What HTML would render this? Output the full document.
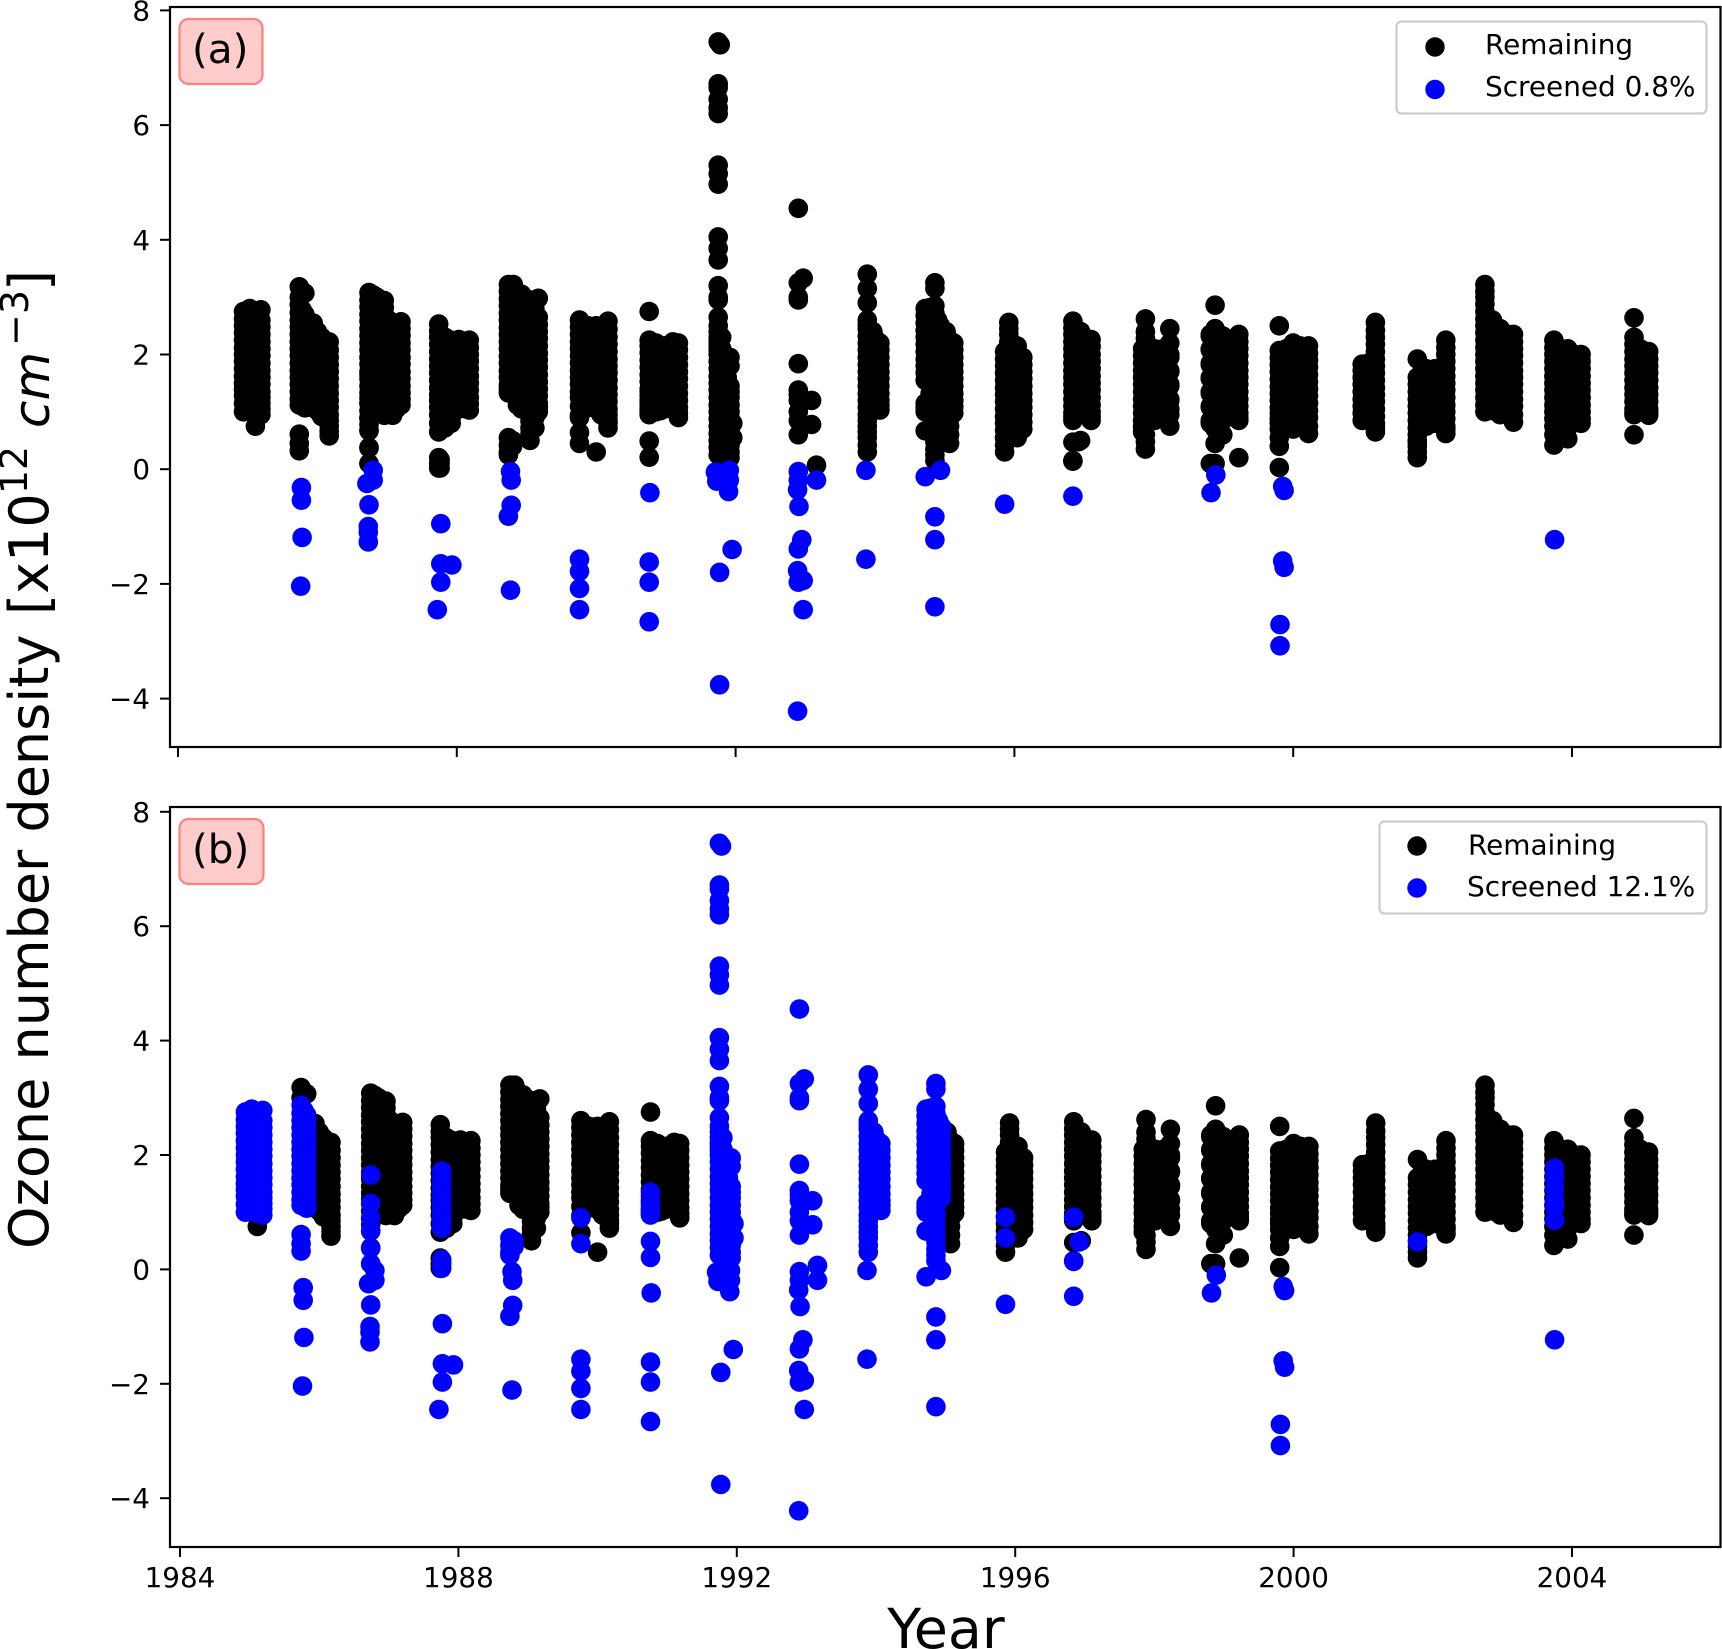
<!DOCTYPE html>
<html lang="en">
<head>
<meta charset="utf-8">
<title>Ozone number density screening</title>
<style>
  html, body { margin: 0; padding: 0; background: #fff; }
  svg { display: block; }
  text { font-family: "DejaVu Sans", "Liberation Sans", sans-serif; fill: #000; }
</style>
</head>
<body>
<svg id="chart" xmlns="http://www.w3.org/2000/svg" width="1722" height="1649" viewBox="0 0 1722 1649">
  <rect x="0" y="0" width="1722" height="1649" fill="#fff"/>
  <g id="panel-a"></g>
  <g id="panel-b"></g>

  <rect x="170" y="7" width="1550.5" height="740" fill="none" stroke="#000" stroke-width="2.2"/>
  <rect x="170" y="807" width="1550.5" height="740" fill="none" stroke="#000" stroke-width="2.2"/>

  <g>
    <rect x="179.5" y="19" width="83" height="65" rx="9" fill="#ffcccc" stroke="#ff8080" stroke-width="2.2"/>
    <text x="192" y="63" font-size="40.5">(a)</text>
  </g>
  <g>
    <rect x="179.5" y="819" width="84" height="65" rx="9" fill="#ffcccc" stroke="#ff8080" stroke-width="2.2"/>
    <text x="192" y="863" font-size="40.5">(b)</text>
  </g>

  <g>
    <rect x="1396.5" y="21.5" width="310" height="92" rx="5" fill="#fff" fill-opacity="0.8" stroke="#ccc" stroke-width="2.2"/>
    <circle cx="1435" cy="47" r="9.7" fill="#000"/>
    <text x="1485" y="54" font-size="27.9">Remaining</text>
    <circle cx="1435" cy="89.5" r="9.7" fill="#0000ff"/>
    <text x="1485" y="96" font-size="27.9">Screened 0.8%</text>
  </g>
  <g>
    <rect x="1379.5" y="821.5" width="327" height="92" rx="5" fill="#fff" fill-opacity="0.8" stroke="#ccc" stroke-width="2.2"/>
    <circle cx="1417" cy="846" r="9.7" fill="#000"/>
    <text x="1468" y="854.5" font-size="27.9">Remaining</text>
    <circle cx="1417" cy="888" r="9.7" fill="#0000ff"/>
    <text x="1467" y="896" font-size="27.9">Screened 12.1%</text>
  </g>

  <text transform="translate(48,1249) rotate(-90)" font-size="54"><tspan x="0" y="0">Ozone number density</tspan><tspan x="634" y="0">[x10</tspan><tspan x="755" y="-21" font-size="37.8">12</tspan><tspan x="821" y="1" font-size="50" font-style="italic">cm</tspan><tspan x="903" y="-20" font-size="38">−3</tspan><tspan x="958" y="0">]</tspan></text>
  <text x="946" y="1648" font-size="55.5" text-anchor="middle">Year</text>
</svg>

<script>
const NS = 'http://www.w3.org/2000/svg';

const yearTicks = [1984, 1988, 1992, 1996, 2000, 2004];
const valueTicks = [8, 6, 4, 2, 0, -2, -4];

// Observations black in both panels: one year per column, one value list per column.
const commonYears = [
  1985.11,
  1985.74, 1985.82, 1985.94, 1986.06, 1986.17,
  1986.74, 1986.85, 1986.96, 1987.08, 1987.2,
  1987.74, 1987.83, 1987.92, 1988.03, 1988.1, 1988.18,
  1988.74, 1988.81, 1988.93, 1989.05, 1989.12, 1989.17,
  1989.76, 1989.88, 1990.0, 1990.07, 1990.17,
  1990.76, 1990.86, 1990.98, 1991.1, 1991.18,
  1995.02, 1995.07, 1995.13,
  1995.86, 1995.92, 1996.04, 1996.12,
  1996.84, 1996.95, 1997.1,
  1997.84, 1997.88, 1998.01, 1998.13, 1998.23,
  1998.81, 1998.88, 1998.99, 1999.11, 1999.22,
  1999.8, 1999.9, 2000.0, 2000.1, 2000.22,
  2000.99, 2001.08, 2001.18,
  2001.78, 2001.91, 2002.03, 2002.11, 2002.19,
  2002.75, 2002.86, 2002.97, 2003.08, 2003.16,
  2003.74, 2003.84, 2003.94, 2004.04, 2004.13,
  2004.89, 2004.98, 2005.1
];
const commonValues = [
  [0.75],
  [3.18, 3.0], [3.07],
  [2.55, 2.25, 2.0, 1.75, 1.5, 1.25, 1.07],
  [2.3, 2.05, 1.8, 1.55, 1.3, 1.07, 0.92],
  [2.22, 1.95, 1.7, 1.45, 1.2, 0.95, 0.75, 0.58],
  [3.08, 2.83, 2.58, 2.33, 2.08, 1.83, 1.58, 1.33, 1.15, 0.89, 0.67, 0.38, 0.1],
  [3.0, 2.75, 2.5, 2.25, 2.0, 1.75, 1.5, 1.25, 1.05],
  [2.94, 2.7, 2.45, 2.2, 1.95, 1.7, 1.45, 1.2, 0.94],
  [2.55, 2.3, 2.05, 1.8, 1.55, 1.3, 1.05, 0.94],
  [2.57, 2.33, 2.08, 1.83, 1.58, 1.33, 1.12],
  [2.53, 2.3, 2.05, 1.8, 1.55, 1.3, 1.2, 0.95, 0.65, 0.2, 0.1, 0.02],
  [2.3, 2.05, 1.8, 1.55, 1.3, 1.05, 0.85],
  [2.25, 2.0, 1.75, 1.5, 1.25, 1.0, 0.8],
  [2.26, 2.01, 1.76, 1.51, 1.26, 1.05],
  [2.1, 1.85, 1.6, 1.35, 1.1],
  [2.25, 2.0, 1.75, 1.5, 1.25, 1.03],
  [3.22, 2.97, 2.72, 2.47, 2.22, 1.97, 1.72, 1.47, 1.33],
  [3.22, 2.95, 2.7, 2.45, 2.2, 1.95, 1.7, 1.45, 1.35],
  [3.05, 2.8, 2.55, 2.3, 2.05, 1.8, 1.55, 1.3, 1.05],
  [2.95, 2.7, 2.45, 2.2, 1.95, 1.7, 1.45, 1.2, 0.95, 0.72, 0.5],
  [2.8, 2.55, 2.3, 2.05, 1.8, 1.55, 1.3, 1.05, 0.72],
  [2.98, 2.65, 2.4, 2.15, 1.9, 1.65, 1.4, 1.15, 1.0],
  [2.6, 2.35, 2.1, 1.85, 1.6, 1.35, 1.25, 0.94, 0.64],
  [2.5, 2.25, 2.0, 1.75, 1.5, 1.25, 1.1],
  [2.5, 2.25, 2.0, 1.75, 1.5, 1.25, 1.05, 0.3],
  [2.35, 2.1, 1.85, 1.6, 1.35, 1.1, 0.95],
  [2.58, 2.3, 2.05, 1.8, 1.55, 1.3, 1.05, 0.85, 0.72],
  [2.75, 2.25, 2.03, 1.78, 1.53, 1.28, 1.05, 0.97],
  [2.2, 1.95, 1.7, 1.45, 1.2, 1.0],
  [2.15, 1.9, 1.65, 1.4, 1.15, 1.05],
  [2.22, 2.0, 1.75, 1.5, 1.25, 1.05],
  [2.2, 1.95, 1.7, 1.45, 1.2, 0.9],
  [2.4, 2.15, 1.9, 1.65, 1.4, 1.15, 0.9, 0.6],
  [2.25, 2.0, 1.75, 1.5, 1.25, 1.0, 0.75, 0.45],
  [2.2, 1.95, 1.7, 1.45, 1.2, 0.98],
  [2.05, 1.8, 1.55, 1.3, 1.05, 0.8, 0.55, 0.3],
  [2.56, 2.35, 2.1, 1.85, 1.6, 1.35, 1.1],
  [2.15, 1.9, 1.65, 1.4, 1.15, 0.9, 0.7, 0.55],
  [1.95, 1.7, 1.45, 1.2, 0.95, 0.7],
  [2.58, 2.35, 2.1, 1.85, 1.6, 1.35, 1.1, 0.85, 0.47, 0.15],
  [2.4, 2.15, 1.9, 1.65, 1.4, 1.15, 1.0, 0.5],
  [2.26, 2.0, 1.75, 1.5, 1.25, 1.0, 0.85],
  [2.1, 1.85, 1.6, 1.35, 1.1, 0.85, 0.65],
  [2.62, 2.4, 2.15, 1.9, 1.65, 1.4, 1.15, 0.9, 0.6, 0.35],
  [2.1, 1.85, 1.6, 1.35, 1.1, 0.85],
  [2.1, 1.85, 1.6, 1.35, 1.1, 1.0],
  [2.45, 2.2, 1.95, 1.7, 1.45, 1.2, 0.95, 0.75],
  [2.35, 2.1, 1.85, 1.6, 1.35, 1.1, 0.8, 0.1],
  [2.86, 2.45, 2.2, 1.95, 1.7, 1.45, 1.2, 0.95, 0.7, 0.45, 0.1],
  [2.2, 1.95, 1.7, 1.45, 1.2, 1.1],
  [2.15, 1.9, 1.65, 1.4, 1.15],
  [2.35, 2.1, 1.85, 1.6, 1.35, 1.1, 0.85, 0.2],
  [2.5, 2.07, 1.82, 1.57, 1.32, 1.07, 0.88, 0.7, 0.4, 0.03],
  [2.1, 1.85, 1.6, 1.35, 1.1, 0.9],
  [2.2, 1.95, 1.7, 1.45, 1.2, 0.95, 0.7],
  [2.15, 1.9, 1.65, 1.4, 1.15, 0.9],
  [2.15, 1.9, 1.65, 1.4, 1.15, 0.9, 0.62],
  [1.83, 1.6, 1.35, 1.1, 0.85],
  [1.85, 1.6, 1.35, 1.1, 0.9],
  [2.56, 2.3, 2.05, 1.8, 1.55, 1.3, 1.05, 0.8, 0.65],
  [1.92, 1.6, 1.35, 1.1, 0.85, 0.6, 0.4, 0.2],
  [1.75, 1.5, 1.25, 1.0, 0.75],
  [1.75, 1.5, 1.25, 1.0, 0.8],
  [1.6, 1.35, 1.1, 0.85],
  [2.25, 2.0, 1.75, 1.5, 1.25, 1.0, 0.75, 0.62],
  [3.22, 3.0, 2.75, 2.5, 2.25, 2.0, 1.75, 1.5, 1.25, 1.0],
  [2.6, 2.35, 2.1, 1.85, 1.6, 1.35, 1.1],
  [2.45, 2.2, 1.95, 1.7, 1.45, 1.2, 0.95],
  [2.35, 2.1, 1.85, 1.6, 1.35, 1.1, 0.95],
  [2.35, 2.1, 1.85, 1.6, 1.35, 1.1, 0.82],
  [2.25, 2.0, 1.75, 1.5, 1.25, 1.0, 0.75, 0.42],
  [2.1, 1.85, 1.6, 1.35, 1.1, 0.9],
  [2.1, 1.85, 1.6, 1.35, 1.1, 0.85, 0.53],
  [2.0, 1.75, 1.5, 1.25, 1.0, 0.85],
  [2.0, 1.75, 1.5, 1.25, 1.0, 0.8],
  [2.64, 2.3, 2.05, 1.8, 1.55, 1.3, 1.05, 0.95, 0.6],
  [2.1, 1.85, 1.6, 1.35, 1.1, 1.0],
  [2.05, 1.8, 1.55, 1.3, 1.05, 0.94]
];

// Further black observations between the values above, in the dense parts of each campaign.
const commonDenseYears = [
  1985.94, 1986.0, 1986.06, 1986.17,
  1986.74, 1986.8, 1986.85, 1986.96, 1987.02, 1987.08, 1987.14, 1987.2,
  1987.74, 1987.83, 1987.92, 1988.03, 1988.1, 1988.18,
  1988.74, 1988.81, 1988.87, 1988.93, 1989.05, 1989.12, 1989.17,
  1989.76, 1989.82, 1989.88, 1990.0, 1990.07, 1990.17,
  1990.76, 1990.86, 1990.92, 1990.98, 1991.1, 1991.18,
  1995.02, 1995.07, 1995.13,
  1995.86, 1995.92, 1996.04, 1996.12,
  1996.84, 1996.9, 1996.95, 1997.03, 1997.1,
  1997.84, 1997.88, 1997.95, 1998.01, 1998.07, 1998.13, 1998.23,
  1998.81, 1998.88, 1998.99, 1999.05, 1999.11, 1999.17, 1999.22,
  1999.8, 1999.9, 1999.95, 2000.0, 2000.05, 2000.1, 2000.16, 2000.22,
  2000.99, 2001.08, 2001.13, 2001.18,
  2001.78, 2001.85, 2001.91, 2002.03, 2002.11, 2002.19,
  2002.75, 2002.86, 2002.92, 2002.97, 2003.03, 2003.08, 2003.16,
  2003.74, 2003.79, 2003.84, 2003.94, 2004.04, 2004.09, 2004.13,
  2004.89, 2004.94, 2004.98, 2005.04, 2005.1
];
const commonDenseValues = [
  [2.38, 2.12, 1.88, 1.62, 1.38, 1.16],
  [2.4, 2.16, 1.9, 1.64, 1.4, 1.14, 1.02],
  [2.18, 1.92, 1.68, 1.42, 1.18, 1.0],
  [2.08, 1.82, 1.58, 1.32, 1.08, 0.85, 0.66],
  [2.95, 2.7, 2.45, 2.2, 1.95, 1.7, 1.45, 1.24, 1.02, 0.78],
  [3.04, 2.62, 2.36, 2.12, 1.88, 1.62, 1.36, 1.14],
  [2.88, 2.63, 2.38, 2.13, 1.88, 1.63, 1.38, 1.15],
  [2.82, 2.58, 2.32, 2.08, 1.82, 1.58, 1.32, 1.08],
  [2.6, 2.34, 2.1, 1.84, 1.6, 1.34, 1.1, 0.96],
  [2.42, 2.18, 1.92, 1.68, 1.42, 1.18, 1.0],
  [2.5, 2.24, 2.0, 1.74, 1.5, 1.24, 1.06],
  [2.45, 2.2, 1.95, 1.7, 1.45, 1.22],
  [2.41, 2.18, 1.92, 1.68, 1.42, 1.08, 0.8],
  [2.18, 1.92, 1.68, 1.42, 1.18, 0.95, 0.72],
  [2.12, 1.88, 1.62, 1.38, 1.12, 0.9],
  [2.14, 1.88, 1.64, 1.38, 1.16],
  [1.98, 1.72, 1.48, 1.22, 1.06],
  [2.12, 1.88, 1.62, 1.38, 1.14],
  [3.1, 2.85, 2.6, 2.35, 2.1, 1.85, 1.6, 1.4],
  [3.08, 2.82, 2.58, 2.32, 2.08, 1.82, 1.58, 1.4],
  [3.0, 2.76, 2.5, 2.26, 2.0, 1.76, 1.5, 1.26, 1.12],
  [2.92, 2.68, 2.42, 2.18, 1.92, 1.68, 1.42, 1.18],
  [2.82, 2.58, 2.32, 2.08, 1.82, 1.58, 1.32, 1.08, 0.84, 0.62],
  [2.68, 2.42, 2.18, 1.92, 1.68, 1.42, 1.18, 0.9],
  [2.52, 2.28, 2.02, 1.78, 1.52, 1.28, 1.08],
  [2.48, 2.22, 1.98, 1.72, 1.48, 1.1],
  [2.44, 2.18, 1.92, 1.68, 1.42, 1.18, 1.04],
  [2.38, 2.12, 1.88, 1.62, 1.38, 1.18],
  [2.38, 2.12, 1.88, 1.62, 1.38, 1.15],
  [2.22, 1.98, 1.72, 1.48, 1.22, 1.02],
  [2.44, 2.18, 1.92, 1.68, 1.42, 1.18, 0.95, 0.8],
  [2.15, 1.9, 1.65, 1.4, 1.17, 1.0],
  [2.08, 1.82, 1.58, 1.32, 1.1],
  [2.12, 1.88, 1.62, 1.38, 1.14, 1.02],
  [2.02, 1.78, 1.52, 1.28, 1.1],
  [2.12, 1.88, 1.62, 1.38, 1.15],
  [2.08, 1.82, 1.58, 1.32, 1.08, 0.98],
  [2.28, 2.02, 1.78, 1.52, 1.28, 1.02, 0.75],
  [2.12, 1.88, 1.62, 1.38, 1.12, 0.88, 0.6],
  [2.08, 1.82, 1.58, 1.32, 1.09],
  [1.92, 1.68, 1.42, 1.18, 0.92, 0.68, 0.42],
  [2.45, 2.22, 1.98, 1.72, 1.48, 1.22, 1.0],
  [2.02, 1.78, 1.52, 1.28, 1.02, 0.8, 0.62],
  [1.82, 1.58, 1.32, 1.08, 0.82],
  [2.46, 2.22, 1.98, 1.72, 1.48, 1.22, 0.98],
  [2.3, 2.05, 1.8, 1.55, 1.3, 1.05],
  [2.28, 2.02, 1.78, 1.52, 1.28, 1.08],
  [2.18, 1.92, 1.68, 1.42, 1.18, 1.0],
  [2.14, 1.88, 1.62, 1.38, 1.12, 0.92],
  [1.98, 1.72, 1.48, 1.22, 0.98, 0.75],
  [2.28, 2.02, 1.78, 1.52, 1.28, 1.02, 0.76, 0.48],
  [2.0, 1.72, 1.48, 1.22, 1.0],
  [1.98, 1.72, 1.48, 1.22, 0.95],
  [2.0, 1.75, 1.5, 1.25, 1.0],
  [1.98, 1.72, 1.48, 1.22, 1.05],
  [2.0, 1.72, 1.48, 1.22, 1.05],
  [2.32, 2.08, 1.82, 1.58, 1.32, 1.08, 0.85],
  [2.22, 1.98, 1.72, 1.48, 1.22, 0.95],
  [2.32, 2.08, 1.82, 1.58, 1.32, 1.08, 0.85, 0.6],
  [2.08, 1.82, 1.58, 1.32, 1.18],
  [2.05, 1.8, 1.55, 1.3, 1.12],
  [2.02, 1.78, 1.52, 1.28, 1.02],
  [2.22, 1.98, 1.72, 1.48, 1.22, 0.98, 0.9],
  [1.94, 1.7, 1.44, 1.2, 0.98, 0.8, 0.55],
  [1.98, 1.72, 1.48, 1.22, 1.0],
  [2.08, 1.82, 1.58, 1.32, 1.06, 0.82],
  [2.1, 1.84, 1.58, 1.33, 1.08, 0.84],
  [2.08, 1.82, 1.58, 1.32, 1.08, 0.82],
  [2.02, 1.78, 1.52, 1.28, 1.02, 0.95],
  [2.08, 1.84, 1.58, 1.34, 1.08, 0.88],
  [2.02, 1.78, 1.52, 1.28, 1.02, 0.75],
  [1.72, 1.48, 1.22, 0.98],
  [1.72, 1.48, 1.22, 1.0],
  [1.75, 1.5, 1.25, 1.02, 0.88],
  [2.42, 2.18, 1.92, 1.68, 1.42, 1.18, 0.92, 0.72],
  [1.48, 1.22, 0.98, 0.72, 0.5, 0.3],
  [1.72, 1.48, 1.22, 0.98, 0.78],
  [1.62, 1.38, 1.12, 0.88],
  [1.62, 1.38, 1.12, 0.9],
  [1.72, 1.48, 1.22, 0.98],
  [2.12, 1.88, 1.62, 1.38, 1.12, 0.88, 0.7],
  [3.1, 2.88, 2.62, 2.38, 2.12, 1.88, 1.62, 1.38, 1.12],
  [2.48, 2.22, 1.98, 1.72, 1.48, 1.22, 1.02],
  [2.4, 2.14, 1.88, 1.62, 1.38, 1.12, 1.0],
  [2.32, 2.08, 1.82, 1.58, 1.32, 1.08],
  [2.34, 2.08, 1.84, 1.58, 1.34, 1.08, 0.98],
  [2.22, 1.98, 1.72, 1.48, 1.22, 1.02],
  [2.22, 1.98, 1.72, 1.48, 1.22, 0.95],
  [2.12, 1.88, 1.62, 1.38, 1.12, 0.88, 0.6],
  [2.0, 1.75, 1.5, 1.25, 1.0, 0.78],
  [1.98, 1.72, 1.48, 1.22, 1.0],
  [1.98, 1.72, 1.48, 1.22, 0.98, 0.72],
  [1.88, 1.62, 1.38, 1.12, 0.92],
  [1.9, 1.64, 1.38, 1.14, 0.94],
  [1.88, 1.62, 1.38, 1.12, 0.88],
  [2.18, 1.92, 1.68, 1.42, 1.18, 0.98],
  [2.05, 1.78, 1.52, 1.28, 1.04],
  [1.98, 1.72, 1.48, 1.22, 1.05],
  [1.96, 1.7, 1.46, 1.2, 1.02],
  [1.92, 1.68, 1.42, 1.18, 0.98]
];

// Observations black in panel (a) but screened (blue) in panel (b).
const stricterYears = [
  1984.94, 1985.03, 1985.11, 1985.19,
  1985.74, 1985.82,
  1986.74,
  1987.76,
  1988.74, 1988.8,
  1989.76,
  1990.76,
  1991.75, 1991.78, 1991.8, 1991.84, 1991.92, 1991.96,
  1992.9, 1992.97, 1993.09, 1993.16,
  1993.89, 1993.97, 1994.07,
  1994.72, 1994.86, 1994.94,
  1995.86,
  1996.84, 1996.92,
  2001.78,
  2003.75
];
const stricterValues = [
  [2.75, 2.5, 2.25, 2.0, 1.75, 1.5, 1.28, 1.0],
  [2.8, 2.55, 2.3, 2.05, 1.8, 1.55, 1.3, 1.05],
  [2.7, 2.45, 2.2, 1.95, 1.7, 1.45, 1.2, 0.98],
  [2.78, 2.6, 2.35, 2.1, 1.85, 1.6, 1.35, 1.15, 0.95],
  [2.87, 2.6, 2.35, 2.1, 1.85, 1.6, 1.35, 1.12, 0.61, 0.45, 0.32],
  [2.7, 2.45, 2.2, 1.95, 1.7, 1.45, 1.2, 1.07],
  [1.65, 1.15, 0.9, 0.68, 0.37, 0.1],
  [1.72, 1.5, 1.3, 1.1, 0.9, 0.72, 0.17, 0.1, 0.02],
  [0.55, 0.42, 0.3, 0.25],
  [0.5, 0.4],
  [0.9, 0.45],
  [1.35, 1.2, 1.05, 0.95, 0.49, 0.21],
  [7.45, 6.72, 6.65, 6.45, 6.3, 6.2, 5.3, 5.15, 4.97, 4.05, 3.85, 3.65, 3.2, 3.0, 2.95, 2.65, 2.5, 2.3, 2.15, 2.0, 1.75, 1.5, 1.25, 1.0, 0.75, 0.5, 0.25],
  [7.4],
  [2.3, 2.1, 1.9, 1.7, 0.15],
  [1.5, 1.25, 1.0, 0.8, 0.6, 0.4, 0.25, 0.1],
  [1.95, 1.8, 1.45, 1.25, 1.0, 0.8, 0.55, 0.3, 0.2],
  [0.8, 0.55],
  [4.55, 3.25, 3.0, 2.95, 1.84, 1.38, 1.3, 1.2, 1.0, 0.85, 0.6],
  [3.33],
  [1.2, 0.78],
  [0.07],
  [3.4, 3.15, 2.9, 2.6, 2.45, 2.2, 1.95, 1.7, 1.45, 1.2, 0.95, 0.75, 0.55, 0.3],
  [2.4, 2.15, 1.9, 1.65, 1.4, 1.2],
  [2.2, 1.95, 1.7, 1.45, 1.2, 1.03],
  [2.8, 2.55, 2.3, 2.05, 1.8, 1.55, 1.15, 1.0, 0.67],
  [3.25, 3.15, 2.85, 2.6, 2.35, 2.1, 1.85, 1.6, 1.35, 1.1, 0.85, 0.6, 0.35, 0.15],
  [2.5, 2.25, 2.0, 1.75, 1.5, 1.25],
  [0.91, 0.55],
  [0.91, 0.14],
  [0.48],
  [0.48],
  [1.77, 1.6, 1.4, 1.2, 1.1, 0.86]
];

// Further observations between the flagged values above.
const stricterDenseYears = [
  1984.94, 1984.98, 1985.03, 1985.07, 1985.11, 1985.15, 1985.19,
  1985.74, 1985.78, 1985.82,
  1987.76,
  1990.76,
  1991.75, 1991.8, 1991.84, 1991.88, 1991.92,
  1993.89, 1993.93, 1993.97, 1994.02, 1994.07,
  1994.72, 1994.79, 1994.86, 1994.9, 1994.94
];
const stricterDenseValues = [
  [2.62, 2.38, 2.12, 1.88, 1.62, 1.39, 1.14],
  [2.7, 2.44, 2.2, 1.94, 1.7, 1.44, 1.2, 1.05],
  [2.68, 2.42, 2.18, 1.92, 1.68, 1.42, 1.18],
  [2.6, 2.34, 2.1, 1.84, 1.6, 1.34, 1.1],
  [2.58, 2.32, 2.08, 1.82, 1.58, 1.32, 1.08],
  [2.52, 2.28, 2.02, 1.78, 1.52, 1.28, 1.05],
  [2.48, 2.22, 1.98, 1.72, 1.48, 1.25, 1.05],
  [2.73, 2.48, 2.22, 1.98, 1.72, 1.48, 1.22],
  [2.78, 2.52, 2.28, 2.02, 1.78, 1.52, 1.28, 1.1],
  [2.58, 2.32, 2.08, 1.82, 1.58, 1.32, 1.12],
  [1.6, 1.4, 1.2, 1.0, 0.8],
  [1.12],
  [2.4, 2.22, 2.08, 1.88, 1.62, 1.38, 1.12, 0.88, 0.62, 0.38],
  [2.0, 1.8, 1.55, 1.3, 1.05, 0.8, 0.55, 0.3],
  [1.38, 1.12, 0.9, 0.7, 0.5, 0.32],
  [1.6, 1.35, 1.1, 0.85, 0.6, 0.35, 0.18],
  [1.35, 1.12, 0.9, 0.68, 0.42],
  [2.52, 2.32, 2.08, 1.82, 1.58, 1.32, 1.08, 0.85, 0.65, 0.42],
  [2.3, 2.05, 1.8, 1.55, 1.3, 1.1],
  [2.28, 2.02, 1.78, 1.52, 1.3],
  [2.25, 2.0, 1.75, 1.5, 1.25, 1.1],
  [2.08, 1.82, 1.58, 1.32, 1.12],
  [2.68, 2.42, 2.18, 1.92, 1.68, 1.08],
  [2.82, 2.58, 2.32, 2.08, 1.82, 1.58, 1.32],
  [2.72, 2.48, 2.22, 1.98, 1.72, 1.48, 1.22, 0.98, 0.72, 0.48, 0.25],
  [2.6, 2.35, 2.1, 1.85, 1.6, 1.35],
  [2.38, 2.12, 1.88, 1.62, 1.38]
];

// Observations screened (blue) in both panels.
const screenedYears = [
  1985.77, 1985.77, 1985.78, 1985.76,
  1986.8, 1986.8, 1986.71, 1986.74, 1986.73, 1986.73, 1986.73,
  1987.77, 1987.77, 1987.93, 1987.77, 1987.72,
  1988.77, 1988.78, 1988.78, 1988.74, 1988.77,
  1989.76, 1989.76, 1989.76, 1989.76,
  1990.77, 1990.76, 1990.76, 1990.76,
  1991.71, 1991.73, 1991.77, 1991.91, 1991.91, 1991.9, 1991.95, 1991.77, 1991.77,
  1992.9, 1992.9, 1992.89, 1992.91, 1992.95, 1992.9, 1992.89, 1992.9, 1992.97, 1992.97, 1992.89, 1993.16,
  1993.87, 1993.87,
  1994.72, 1994.94, 1994.86, 1994.86, 1994.86,
  1995.86,
  1996.84,
  1998.82, 1998.89,
  1999.85, 1999.87, 1999.85, 1999.87, 1999.81, 1999.81,
  2003.75
];
const screenedValues = [
  -0.32, -0.54, -1.19, -2.04,
  -0.02, -0.19, -0.25, -0.62, -1.0, -1.1, -1.27,
  -0.95, -1.65, -1.67, -1.97, -2.45,
  -0.04, -0.19, -0.63, -0.82, -2.11,
  -1.57, -1.78, -2.08, -2.45,
  -0.41, -1.62, -1.97, -2.66,
  -0.05, -0.21, -0.15, -0.02, -0.19, -0.39, -1.4, -1.8, -3.76,
  -0.04, -0.19, -0.36, -0.65, -1.23, -1.39, -1.77, -1.97, -1.94, -2.45, -4.22, -0.19,
  -0.02, -1.57,
  -0.13, -0.02, -0.83, -1.23, -2.4,
  -0.61,
  -0.47,
  -0.41, -0.1,
  -0.3, -0.37, -1.6, -1.71, -2.71, -3.08,
  -1.23
];

const xAxisA = y => 178 + (y - 1984) * 69.7;
const yAxisA = v => 469.2 - 57.35 * v;
const xAxisB = y => 180 + (y - 1984) * 69.6;
const yAxisB = v => 1269.4 - 57.2 * v;
const MARKER_RADIUS = 9.8;

function drawRemaining(group, x, y) {
  const el = document.createElementNS(NS, 'circle');
  
  
  el.setAttribute('cx', x.toFixed(1));
  el.setAttribute('cy', y.toFixed(1));
  el.setAttribute('r', MARKER_RADIUS);
  el.setAttribute('fill', '#000');
  group.appendChild(el);
}

function drawScreened(group, x, y) {
  const el = document.createElementNS(NS, 'circle');
  
  
  el.setAttribute('cx', x.toFixed(1));
  el.setAttribute('cy', y.toFixed(1));
  el.setAttribute('r', MARKER_RADIUS);
  el.setAttribute('fill', '#0000ff');
  group.appendChild(el);
}

function drawColumns(draw, group, years, values, xAxis, yAxis) {
  years.forEach((year, i) => {
    values[i].forEach(v => draw(group, xAxis(year), yAxis(v)));
  });
}

function drawFlat(draw, group, years, values, xAxis, yAxis) {
  years.forEach((year, i) => draw(group, xAxis(year), yAxis(values[i])));
}

function drawXTicks(group, xAxis, baseY, showLabels) {
  yearTicks.forEach(year => {
    const mark = document.createElementNS(NS, 'line');
    
    
    mark.setAttribute('x1', xAxis(year));
    mark.setAttribute('x2', xAxis(year));
    mark.setAttribute('y1', baseY);
    mark.setAttribute('y2', baseY + 10);
    mark.setAttribute('stroke', '#000');
    mark.setAttribute('stroke-width', '2');
    group.appendChild(mark);
    if (showLabels) {
      const label = document.createElementNS(NS, 'text');
      
      
      label.setAttribute('x', xAxis(year));
      label.setAttribute('y', baseY + 40);
      label.setAttribute('font-size', '27.8');
      label.setAttribute('text-anchor', 'middle');
      label.textContent = String(year);
      group.appendChild(label);
    }
  });
}

function drawYTicks(group, yAxis) {
  valueTicks.forEach(v => {
    const mark = document.createElementNS(NS, 'line');
    
    
    mark.setAttribute('x1', 160);
    mark.setAttribute('x2', 170);
    mark.setAttribute('y1', yAxis(v));
    mark.setAttribute('y2', yAxis(v));
    mark.setAttribute('stroke', '#000');
    mark.setAttribute('stroke-width', '2');
    group.appendChild(mark);
    const label = document.createElementNS(NS, 'text');
    
    
    label.setAttribute('x', 150);
    label.setAttribute('y', yAxis(v) + 10);
    label.setAttribute('font-size', '27.8');
    label.setAttribute('text-anchor', 'end');
    label.textContent = v < 0 ? '\u2212' + Math.abs(v) : String(v);
    group.appendChild(label);
  });
}

const panelA = document.getElementById('panel-a');
const panelB = document.getElementById('panel-b');

// Panel (a): only the small screened set is blue.
drawColumns(drawRemaining, panelA, commonYears, commonValues, xAxisA, yAxisA);
drawColumns(drawRemaining, panelA, commonDenseYears, commonDenseValues, xAxisA, yAxisA);
drawColumns(drawRemaining, panelA, stricterYears, stricterValues, xAxisA, yAxisA);
drawColumns(drawRemaining, panelA, stricterDenseYears, stricterDenseValues, xAxisA, yAxisA);
drawFlat(drawScreened, panelA, screenedYears, screenedValues, xAxisA, yAxisA);
drawXTicks(panelA, xAxisA, 747, false);
drawYTicks(panelA, yAxisA);

// Panel (b): the stricter screen also turns the flagged observations blue.
drawColumns(drawRemaining, panelB, commonYears, commonValues, xAxisB, yAxisB);
drawColumns(drawRemaining, panelB, commonDenseYears, commonDenseValues, xAxisB, yAxisB);
drawColumns(drawScreened, panelB, stricterYears, stricterValues, xAxisB, yAxisB);
drawColumns(drawScreened, panelB, stricterDenseYears, stricterDenseValues, xAxisB, yAxisB);
drawFlat(drawScreened, panelB, screenedYears, screenedValues, xAxisB, yAxisB);
drawXTicks(panelB, xAxisB, 1547, true);
drawYTicks(panelB, yAxisB);
</script>
</body>
</html>
